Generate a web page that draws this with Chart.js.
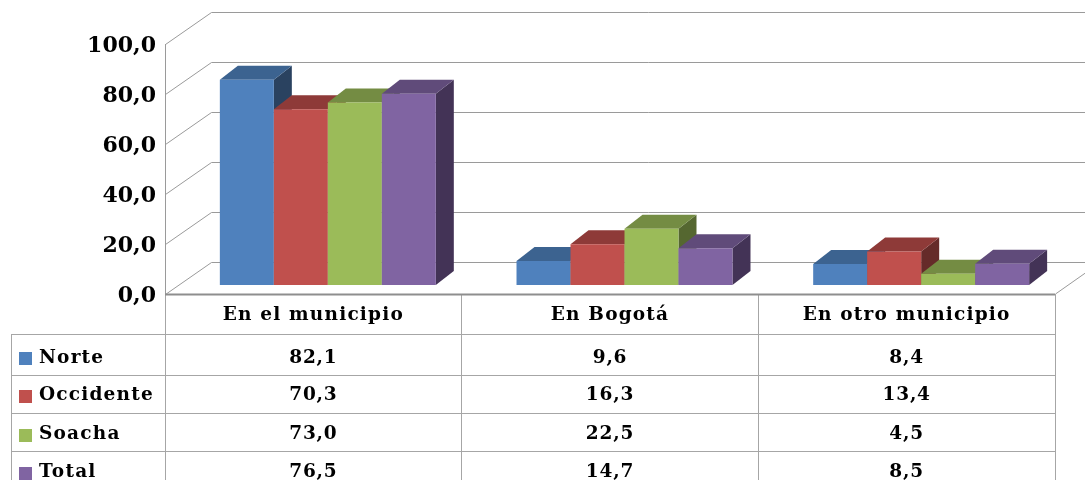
<!DOCTYPE html>
<html><head><meta charset="utf-8">
<style>html,body{margin:0;padding:0;background:#fff;overflow:hidden}canvas{display:block}</style>
<script src="https://cdn.jsdelivr.net/npm/chart.js@4"></script>
</head><body><canvas id="c" width="1085" height="480"></canvas>
<script>
const categories = ['En el municipio', 'En Bogotá', 'En otro municipio'];
const seriesNames = ['Norte', 'Occidente', 'Soacha', 'Total'];
const norte = [82.1, 9.6, 8.4];
const occidente = [70.3, 16.3, 13.4];
const soacha = [73.0, 22.5, 4.5];
const total = [76.5, 14.7, 8.5];
const seriesValues = [norte, occidente, soacha, total];
const frontColors = ['#4F81BD', '#C0504D', '#9BBB59', '#8064A2'];
const topColors = ['#3C6390', '#8E3A38', '#748C43', '#604B7A'];
const sideColors = ['#2A4260', '#652B29', '#556730', '#433356'];
const axisTicks = [0, 20, 40, 60, 80, 100];

const FONT = '"DejaVu Serif", serif';
const GRID = '#9A9A9A';
const LINE = '#A6A6A6';
const fmt = v => v.toFixed(1).replace('.', ',');
const wall = {dx: 46, dy: -32};      // depth of the floor
const plane = {dx: 14.5, dy: -9};    // where the bars stand on the floor
const bar = {dx: 18, dy: -14};       // depth of a bar
const rowY = [334, 375, 413, 451, 490];
const textY = [358, 395, 434, 472];
const keyY = [352, 390, 429, 467];
const tableLeft = 11;

const threeD = {
  id: 'threeD',
  beforeDraw(chart) {
    const {ctx, scales: {x, y}} = chart;
    ctx.save();
    ctx.strokeStyle = GRID; ctx.lineWidth = 1;
    axisTicks.forEach(t => {
      const py = Math.round(y.getPixelForValue(t));
      ctx.beginPath();
      ctx.moveTo(x.left + .5, py + .5);
      ctx.lineTo(x.left + wall.dx + .5, py + wall.dy + .5);
      ctx.lineTo(x.right + wall.dx, py + wall.dy + .5);
      ctx.stroke();
    });
    ctx.beginPath();
    ctx.moveTo(x.left + .5, y.top);
    ctx.lineTo(x.left + .5, y.bottom);
    ctx.stroke();
    const b = y.getPixelForValue(0);
    ctx.beginPath();
    ctx.moveTo(x.right + .5, b);
    ctx.lineTo(x.right + wall.dx, b + wall.dy);
    ctx.stroke();
    ctx.strokeStyle = LINE;
    const bottom = 480;
    const step = x.getPixelForTick(1) - x.getPixelForTick(0);
    [x.left, ...categories.map((c, i) => x.getPixelForTick(i) + step / 2)].forEach(px => {
      ctx.beginPath();
      ctx.moveTo(Math.floor(px) + .5, b);
      ctx.lineTo(Math.floor(px) + .5, bottom);
      ctx.stroke();
    });
    ctx.beginPath();
    ctx.moveTo(tableLeft + .5, rowY[0]);
    ctx.lineTo(tableLeft + .5, bottom);
    ctx.stroke();
    rowY.forEach(ry => {
      ctx.beginPath();
      ctx.moveTo(tableLeft, ry + .5);
      ctx.lineTo(x.right, ry + .5);
      ctx.stroke();
    });
    ctx.strokeStyle = '#8E8E8E'; ctx.lineWidth = 2;
    ctx.beginPath();
    ctx.moveTo(x.left, b + .5);
    ctx.lineTo(x.right, b + .5);
    ctx.stroke();
    ctx.textBaseline = 'middle';
    ctx.font = 'bold 18.5px ' + FONT;
    seriesNames.forEach((n, s) => {
      ctx.fillStyle = frontColors[s];
      ctx.fillRect(19, keyY[s], 13, 13);
      ctx.fillStyle = '#000';
      ctx.textAlign = 'left';
      ctx.letterSpacing = '1.2px';
      ctx.fillText(n, 39, textY[s]);
      ctx.textAlign = 'center';
      ctx.letterSpacing = '0.8px';
      seriesValues[s].forEach((v, i) => ctx.fillText(fmt(v), x.getPixelForTick(i), textY[s]));
    });
    ctx.restore();
    ctx.letterSpacing = '1.2px';   // for the category labels, drawn next
  },
  // Datasets are drawn left to right below, so that each bar covers its left neighbour's side.
  beforeDatasetDraw() { return false; },
  afterDatasetsDraw(chart) {
    const ctx = chart.ctx;
    ctx.letterSpacing = '0px';     // for the value axis labels, drawn next
    ctx.save();
    ctx.translate(plane.dx, plane.dy);
    chart.getSortedVisibleDatasetMetas().forEach(meta => {
      const s = meta.index;
      meta.data.forEach(el => {
        const {x, y, base, width} = el.getProps(['x', 'y', 'base', 'width'], true);
        const l = x - width / 2, r = x + width / 2;
        ctx.fillStyle = sideColors[s];
        ctx.beginPath();
        ctx.moveTo(r, y); ctx.lineTo(r + bar.dx, y + bar.dy);
        ctx.lineTo(r + bar.dx, base + bar.dy); ctx.lineTo(r, base);
        ctx.closePath(); ctx.fill();
        ctx.fillStyle = topColors[s];
        ctx.beginPath();
        ctx.moveTo(l, y); ctx.lineTo(l + bar.dx, y + bar.dy);
        ctx.lineTo(r + bar.dx, y + bar.dy); ctx.lineTo(r, y);
        ctx.closePath(); ctx.fill();
        el.draw(ctx);
      });
    });
    ctx.restore();
  }
};

new Chart(document.getElementById('c'), {
  type: 'bar',
  data: {
    labels: categories,
    datasets: seriesNames.map((n, i) => ({
      label: n,
      data: seriesValues[i],
      backgroundColor: frontColors[i],
      borderWidth: 0,
      barPercentage: 1,
      categoryPercentage: 0.728
    }))
  },
  options: {
    responsive: false,
    animation: false,
    layout: {padding: {top: 44, right: 30, left: 0, bottom: 0}},
    plugins: {legend: {display: false}, tooltip: {enabled: false}, title: {display: false}},
    scales: {
      x: {
        afterFit(s) { s.height = 186; },
        grid: {display: false, drawTicks: false}, border: {display: false},
        ticks: {z: 0, color: '#000', font: {family: FONT, size: 18.5, weight: 'bold'}, padding: 10, maxRotation: 0, autoSkip: false}
      },
      y: {
        min: 0, max: 100,
        afterFit(s) { s.width = 165; },
        grid: {display: false, drawTicks: false}, border: {display: false},
        ticks: {z: 1, stepSize: 20, labelOffset: 2, color: '#000', font: {family: FONT, size: 22, weight: 'bold'}, padding: 9, callback: v => fmt(v)}
      }
    }
  },
  plugins: [threeD]
});
</script></body></html>
